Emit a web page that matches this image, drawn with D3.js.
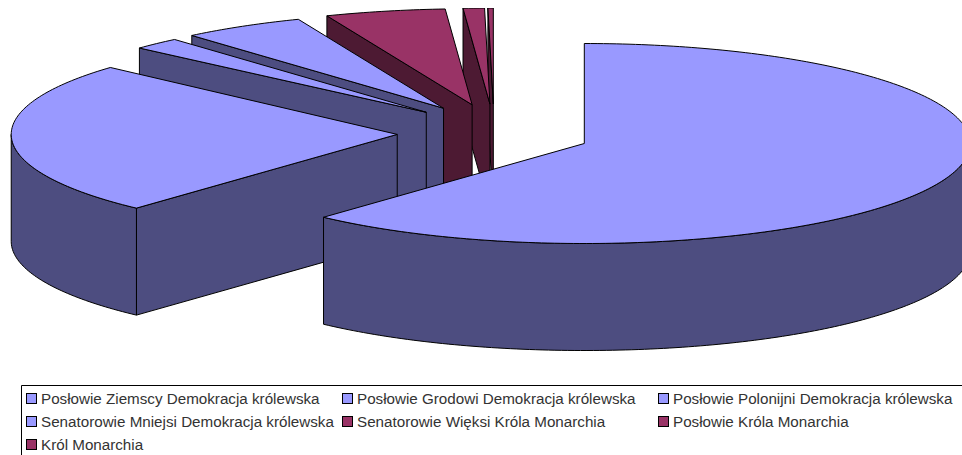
<!DOCTYPE html>
<html>
<head>
<meta charset="utf-8">
<script src="https://cdn.jsdelivr.net/npm/d3@7"></script>
<style>
    html, body { margin: 0; padding: 0; background: #fff; overflow: hidden; }
    svg { display: block; }
    text { font-family: "Liberation Sans", Arial, sans-serif; font-size: 15.2px; fill: #333; }
</style>
</head>
<body>
<div id="chart"></div>
<script>
// categories and values (degrees of the pie)
var categories = [
    "Posłowie Ziemscy Demokracja królewska",
    "Posłowie Grodowi Demokracja królewska",
    "Posłowie Polonijni Demokracja królewska",
    "Senatorowie Mniejsi Demokracja królewska",
    "Senatorowie Więksi Króla Monarchia",
    "Posłowie Króla Monarchia",
    "Król Monarchia"
];
var values = [222.5, 89.5, 7.3, 18.6, 18.1, 3.2, 0.8];
var groups = [0, 0, 0, 0, 1, 1, 1];

var topColors = ["#9999ff", "#993366"];
var sideColors = ["#4d4d80", "#4d1a33"];

var width = 962, height = 455;
var depth = 107;
var explodeX = 0.251, explodeY = 0.29;
var backSquash = 0.96; // slices pushed to the back are a bit flatter, perspective

var x = d3.scaleLinear().domain([-1, 1]).range([494 - 386, 494 + 386]);
var y = d3.scaleLinear().domain([-1, 1]).range([133 + 100, 133 - 100]);

var svg = d3.select("#chart").append("svg").attr("width", width).attr("height", height);

svg.append("clipPath").attr("id", "plot")
    .append("rect").attr("x", 0).attr("y", 8).attr("width", width).attr("height", 370);
var plot = svg.append("g").attr("clip-path", "url(#plot)");

var pie = d3.pie().sort(null);
var slices = pie(values);
slices.forEach(function (d, i) {
    var mid = (d.startAngle + d.endAngle) / 2;
    d.ox = explodeX * Math.sin(mid);
    d.oy = explodeY * Math.cos(mid);
    d.group = groups[i];
});

var line = d3.line().x(d => d[0]).y(d => d[1]);

function rim(d, a) {
    var c = Math.cos(a);
    return [x(d.ox + Math.sin(a)), y(d.oy + (d.oy > 0 ? c * backSquash : c))];
}
function tip(d) {
    return [x(d.ox), y(d.oy)];
}
function arcPoints(d, a0, a1) {
    var n = Math.max(2, Math.ceil((a1 - a0) * 60));
    return d3.range(n + 1).map(i => rim(d, a0 + (a1 - a0) * i / n));
}
function drop(p) {
    return [p[0], p[1] + depth];
}
function wall(pts) {
    return line(pts.concat(pts.slice().reverse().map(drop))) + "Z";
}

// back slices first so the big one ends up on top
slices.slice().reverse().forEach(function (d) {
    var g = plot.append("g");
    var side = sideColors[d.group];
    var walls = [];

    if (Math.sin(d.startAngle) < 0) walls.push([tip(d), rim(d, d.startAngle)]);
    if (Math.sin(d.endAngle) > 0) walls.push([tip(d), rim(d, d.endAngle)]);

    var a0 = Math.max(d.startAngle, Math.PI / 2);
    var a1 = Math.min(d.endAngle, Math.PI * 1.5);
    if (a1 > a0) walls.push(arcPoints(d, a0, a1));

    walls.forEach(function (pts) {
        g.append("path").attr("d", wall(pts))
            .attr("fill", side).attr("stroke", "#000").attr("stroke-width", 1);
    });

    g.append("path")
        .attr("d", line([tip(d)].concat(arcPoints(d, d.startAngle, d.endAngle))) + "Z")
        .attr("fill", topColors[d.group]).attr("stroke", "#000").attr("stroke-width", 1);
});

// legend
var legend = svg.append("g");
legend.append("path").attr("d", "M21.5,455V385.5H962")
    .attr("fill", "none").attr("stroke", "#000");

var columns = d3.scalePoint().domain([0, 1, 2]).range([26, 658]);
var rows = d3.scalePoint().domain([0, 1, 2]).range([393, 439]);

categories.forEach(function (name, i) {
    var col = i % 3, row = Math.floor(i / 3);
    legend.append("rect")
        .attr("x", columns(col) + 0.5).attr("y", rows(row) + 0.5)
        .attr("width", 10).attr("height", 10)
        .attr("fill", topColors[groups[i]]).attr("stroke", "#000");
    legend.append("text")
        .attr("x", columns(col) + 15).attr("y", rows(row) + 11)
        .text(name);
});
</script>
</body>
</html>
